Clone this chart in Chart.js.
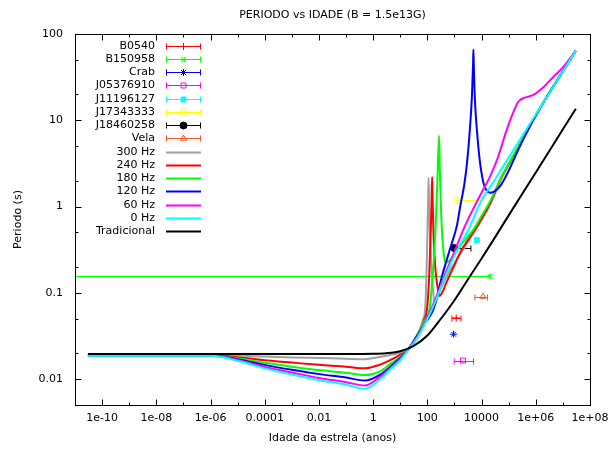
<!DOCTYPE html>
<html>
<head>
<meta charset="utf-8">
<script src="https://cdn.jsdelivr.net/npm/chart.js@4.4.1/dist/chart.umd.min.js"></script>
<style>
  body { margin: 0; background: #fff; }
  canvas { display: block; }
</style>
</head>
<body>
<canvas id="periodChart" width="612" height="450"></canvas>
<script>
// ticks
const xTickValues = [1e-10, 1e-8, 1e-6, 1e-4, 1e-2, 1, 100, 1e4, 1e6, 1e8];
const xTickLabels = ['1e-10', '1e-08', '1e-06', '0.0001', '0.01', '1', '100', '10000', '1e+06', '1e+08'];
const yTickValues = [0.01, 0.1, 1, 10, 100];
const yTickLabels = ['0.01', '0.1', '1', '10', '100'];

// observed pulsars (age in years, period in s)
const psrNames = ['B0540', 'B150958', 'Crab', 'J05376910', 'J11196127', 'J17343333', 'J18460258', 'Vela'];
const psrAge = [1160, 20700, 925, 2050, 6700, 1230, 980, 11200];
const psrAgeLow = [805, 1e-12, 925, 980, 6700, 1230, 880, 5670];
const psrAgeHigh = [1730, 20700, 925, 5030, 6700, 10300, 4040, 16500];
const psrPeriod = [0.0511, 0.155, 0.0331, 0.0164, 0.407, 1.18, 0.330, 0.0904];

// model curves [age, period]
const curve300 = [[3e-11, 0.0190], [1e-6, 0.0190], [1e-5, 0.0187], [1e-4, 0.0182], [1e-3, 0.0178], [1e-2, 0.0175],
  [0.1, 0.0172], [0.5, 0.0170], [1.7, 0.0180], [5, 0.0192], [10, 0.0200], [18, 0.0215], [30, 0.026], [50, 0.036],
  [70, 0.050], [83, 0.065], [92, 0.15], [100, 0.45], [106, 1.1], [111, 2.15], [116, 1.0], [125, 0.45], [140, 0.2],
  [165, 0.1], [195, 0.075], [240, 0.09], [350, 0.12], [600, 0.17], [1000, 0.22], [1630, 0.28], [3000, 0.38],
  [5700, 0.52], [1e4, 0.7], [2.07e4, 1.05], [5.6e4, 2.15], [1.75e5, 4.15], [4e5, 6.7], [8.1e5, 10.0], [2e6, 16.4],
  [1e7, 37], [3e7, 64]];
const curve240 = [[3e-11, 0.0189], [1e-6, 0.0189], [1e-5, 0.0179], [1e-4, 0.0165], [1e-3, 0.0155], [1e-2, 0.0146],
  [0.1, 0.0139], [0.5, 0.0133], [1.7, 0.0146], [5, 0.0170], [10, 0.0190], [18, 0.0212], [30, 0.026], [50, 0.035],
  [75, 0.048], [97, 0.065], [115, 0.14], [130, 0.4], [142, 1.1], [150, 2.2], [157, 1.1], [170, 0.45], [195, 0.2],
  [235, 0.12], [282, 0.092], [350, 0.1], [500, 0.13], [1000, 0.21], [1630, 0.294], [3000, 0.40], [5700, 0.54],
  [1e4, 0.72], [2.07e4, 1.1], [5.6e4, 2.24], [1.75e5, 4.2], [4e5, 6.8], [8.1e5, 10.1], [2e6, 16.5], [1e7, 37], [3e7, 64]];
const curve180 = [[3e-11, 0.0188], [1e-6, 0.0188], [1e-5, 0.0174], [1e-4, 0.0154], [1e-3, 0.0139], [1e-2, 0.0127],
  [0.1, 0.0118], [0.5, 0.0111], [1.7, 0.0122], [5, 0.0155], [10, 0.0180], [18, 0.0212], [30, 0.027], [50, 0.036],
  [80, 0.048], [120, 0.065], [160, 0.17], [200, 0.55], [235, 2.0], [270, 6.6], [290, 2.5], [320, 0.9], [360, 0.42],
  [410, 0.27], [460, 0.223], [600, 0.23], [1000, 0.28], [2000, 0.38], [5000, 0.54], [1e4, 0.78], [2.07e4, 1.15],
  [5.6e4, 2.25], [1.75e5, 4.25], [4e5, 6.8], [8.1e5, 10.1], [2e6, 16.5], [1e7, 37], [3e7, 64]];
const curve120 = [[3e-11, 0.0188], [1e-6, 0.0188], [1e-5, 0.0170], [1e-4, 0.0146], [1e-3, 0.0128], [1e-2, 0.0114],
  [0.1, 0.0104], [0.5, 0.0096], [1.7, 0.0111], [5, 0.0145], [10, 0.0175], [18, 0.0212], [40, 0.031], [80, 0.044],
  [170, 0.065], [345, 0.155], [700, 0.33], [1230, 0.6], [1630, 1.0], [2300, 1.8], [2900, 3.2], [3600, 7],
  [4400, 18.8], [4850, 45], [5000, 66], [5250, 35], [5800, 15], [6700, 7.8], [8500, 3.5], [11700, 1.88],
  [15000, 1.55], [20700, 1.44], [30000, 1.5], [48400, 1.72], [1e5, 2.6], [2e5, 4.2], [4e5, 6.6], [8.1e5, 10.1],
  [2e6, 16.5], [1e7, 37], [3e7, 64]];
const curve60 = [[3e-11, 0.0187], [1e-6, 0.0187], [1e-5, 0.0166], [1e-4, 0.0138], [1e-3, 0.0119], [1e-2, 0.0103],
  [0.1, 0.0092], [0.5, 0.0084], [1.7, 0.0105], [5, 0.0140], [10, 0.0170], [18, 0.0212], [40, 0.030], [80, 0.045],
  [200, 0.085], [400, 0.15], [1000, 0.30], [2130, 0.54], [5000, 0.95], [1e4, 1.45], [2.07e4, 2.24], [4e4, 3.7],
  [8.5e4, 7.8], [1.5e5, 12.5], [2.3e5, 16.5], [4e5, 18.3], [8.1e5, 19.7], [2e6, 24.5], [4.5e6, 32], [1e7, 41], [3e7, 64]];
const curve0 = [[3e-11, 0.0186], [1e-6, 0.0186], [1e-5, 0.0163], [1e-4, 0.0133], [1e-3, 0.0113], [1e-2, 0.0097],
  [0.1, 0.0086], [0.5, 0.0077], [1.7, 0.0098], [5, 0.0135], [10, 0.0165], [18, 0.0210], [40, 0.029], [80, 0.043],
  [200, 0.08], [400, 0.14], [1000, 0.27], [3300, 0.54], [8900, 1.1], [3e4, 2.02], [1e5, 3.69], [3e5, 6.4],
  [1e6, 11.7], [3e6, 20.2], [1e7, 36.9], [3e7, 64]];
const curveTrad = [[3e-11, 0.0195], [1e-6, 0.0195], [0.1, 0.0195], [1, 0.0196], [3, 0.0199], [10, 0.0210],
  [30, 0.024], [100, 0.032], [300, 0.049], [1000, 0.082], [3000, 0.14], [1e4, 0.25], [3e4, 0.43], [1e5, 0.79],
  [1e6, 2.48], [1e7, 7.85], [3e7, 13.6]];

const psrStyle = [
  { color: '#ff0000', style: 'cross', fill: 'transparent' },
  { color: '#00ff00', style: 'crossRot', fill: 'transparent' },
  { color: '#0000ff', style: 'star', fill: 'transparent' },
  { color: '#ff00ff', style: 'rect', fill: 'transparent' },
  { color: '#00ffff', style: 'rect', fill: '#00ffff' },
  { color: '#ffff00', style: 'circle', fill: 'transparent' },
  { color: '#000000', style: 'circle', fill: '#000000' },
  { color: '#ff5522', style: 'triangle', fill: 'transparent' }
];

const toXY = arr => arr.map(([x, y]) => ({ x, y }));

const datasets = psrNames.map((name, i) => ({
  label: name,
  kind: 'psr',
  data: [{ x: psrAge[i], y: psrPeriod[i] }],
  xLow: psrAgeLow[i],
  xHigh: psrAgeHigh[i],
  showLine: false,
  pointStyle: psrStyle[i].style,
  pointRadius: 3.5,
  pointBorderWidth: 1,
  pointBorderColor: psrStyle[i].color,
  pointBackgroundColor: psrStyle[i].fill,
  order: 20 + i
}));

const lines = [
  ['300 Hz', curve300, '#a0a0a0', 6],
  ['240 Hz', curve240, '#ff0000', 5],
  ['180 Hz', curve180, '#00ff00', 4],
  ['120 Hz', curve120, '#0000ff', 3],
  ['60 Hz', curve60, '#ff00ff', 2],
  ['0 Hz', curve0, '#00ffff', 1],
  ['Tradicional', curveTrad, '#000000', 0]
];
lines.forEach(([label, arr, color, order]) => {
  datasets.push({
    label,
    kind: 'line',
    data: toXY(arr),
    borderColor: color,
    borderWidth: 2,
    pointRadius: 0,
    cubicInterpolationMode: 'monotone',
    order
  });
});

const font = { family: 'DejaVu Sans', size: 11 };

// x error bars, drawn below the curves
const errorBars = {
  id: 'errorBars',
  beforeDatasetsDraw(chart) {
    const { ctx, chartArea: a, scales: { x, y } } = chart;
    ctx.save();
    ctx.beginPath();
    ctx.rect(a.left, a.top, a.right - a.left, a.bottom - a.top);
    ctx.clip();
    ctx.lineWidth = 1;
    chart.data.datasets.forEach(ds => {
      if (ds.kind !== 'psr' || ds.xLow === ds.xHigh) return;
      const x0 = x.getPixelForValue(ds.xLow);
      const x1 = x.getPixelForValue(ds.xHigh);
      const py = Math.round(y.getPixelForValue(ds.data[0].y)) + 0.5;
      ctx.strokeStyle = ds.pointBorderColor;
      ctx.beginPath();
      ctx.moveTo(x0, py); ctx.lineTo(x1, py);
      ctx.moveTo(x0, py - 3); ctx.lineTo(x0, py + 3);
      ctx.moveTo(x1, py - 3); ctx.lineTo(x1, py + 3);
      ctx.stroke();
    });
    ctx.restore();
  }
};

// gnuplot style border, ticks, titles and key
const frame = {
  id: 'frame',
  afterDraw(chart) {
    const { ctx, chartArea: a, scales: { x, y } } = chart;
    ctx.save();
    ctx.strokeStyle = '#000';
    ctx.lineWidth = 1;
    const L = Math.round(a.left) + 0.5, R = Math.round(a.right) + 0.5;
    const T = Math.round(a.top) + 0.5, B = Math.round(a.bottom) + 0.5;
    ctx.strokeRect(L, T, R - L, B - T);
    ctx.beginPath();
    for (let e = -11; e <= 8; e++) {
      const px = Math.round(x.getPixelForValue(Math.pow(10, e))) + 0.5;
      const len = e % 2 === 0 ? 6 : 3;
      ctx.moveTo(px, B); ctx.lineTo(px, B - len);
      ctx.moveTo(px, T); ctx.lineTo(px, T + len);
    }
    for (let e = -3; e <= 2; e++) {
      [1, 2, 5].forEach(m => {
        const v = m * Math.pow(10, e);
        if (v < y.min || v > y.max) return;
        const py = Math.round(y.getPixelForValue(v)) + 0.5;
        const len = m === 1 ? 6 : 3;
        ctx.moveTo(L, py); ctx.lineTo(L + len, py);
        ctx.moveTo(R, py); ctx.lineTo(R - len, py);
      });
    }
    ctx.stroke();

    ctx.fillStyle = '#000';
    ctx.font = '11px "DejaVu Sans"';
    ctx.textAlign = 'center';
    ctx.textBaseline = 'middle';
    ctx.fillText('PERIODO vs IDADE (B = 1.5e13G)', (a.left + a.right) / 2, 15);
    ctx.fillText('Idade da estrela (anos)', (a.left + a.right) / 2, 438);
    ctx.save();
    ctx.translate(18, (a.top + a.bottom) / 2);
    ctx.rotate(-Math.PI / 2);
    ctx.fillText('Periodo (s)', 0, 0);
    ctx.restore();

    // key
    chart.data.datasets.forEach((ds, i) => {
      const ky = Math.round(45.7 + i * 13.24) + 0.5;
      ctx.fillStyle = '#000';
      ctx.textAlign = 'right';
      ctx.fillText(ds.label, 155, ky);
      const x0 = 166, x1 = 201;
      if (ds.kind === 'psr') {
        ctx.strokeStyle = ds.pointBorderColor;
        ctx.lineWidth = 1;
        ctx.beginPath();
        ctx.moveTo(x0, ky); ctx.lineTo(x1, ky);
        ctx.moveTo(x0 + 0.5, ky - 3); ctx.lineTo(x0 + 0.5, ky + 3);
        ctx.moveTo(x1 - 0.5, ky - 3); ctx.lineTo(x1 - 0.5, ky + 3);
        ctx.stroke();
        ctx.fillStyle = ds.pointBackgroundColor;
        Chart.helpers.drawPoint(ctx, { pointStyle: ds.pointStyle, radius: 3.5, rotation: 0, borderWidth: 1 }, (x0 + x1) / 2, ky);
      } else {
        ctx.strokeStyle = ds.borderColor;
        ctx.lineWidth = 2;
        ctx.beginPath();
        ctx.moveTo(x0, ky); ctx.lineTo(x1, ky);
        ctx.stroke();
      }
    });
    ctx.restore();
  }
};

new Chart(document.getElementById('periodChart'), {
  type: 'line',
  data: { datasets },
  plugins: [errorBars, frame],
  options: {
    responsive: false,
    animation: false,
    layout: { padding: { top: 34, right: 22, left: 0, bottom: 0 } },
    plugins: { legend: { display: false }, tooltip: { enabled: false }, title: { display: false } },
    scales: {
      x: {
        type: 'logarithmic',
        min: 1e-11,
        max: 1e8,
        grid: { display: false, drawTicks: false },
        border: { display: false },
        afterBuildTicks: s => { s.ticks = xTickValues.map(v => ({ value: v })); },
        afterFit: s => { s.height = 45; s.paddingLeft = 0; s.paddingRight = 0; },
        ticks: { autoSkip: false, maxRotation: 0, padding: 7, color: '#000', font, callback: (v, i) => xTickLabels[i] }
      },
      y: {
        type: 'logarithmic',
        min: 0.005,
        max: 100,
        grid: { display: false, drawTicks: false },
        border: { display: false },
        afterBuildTicks: s => { s.ticks = yTickValues.map(v => ({ value: v })); },
        afterFit: s => { s.width = 75; s.paddingTop = 0; s.paddingBottom = 0; },
        ticks: { autoSkip: false, padding: 12, color: '#000', font, callback: (v, i) => yTickLabels[i] }
      }
    }
  }
});
</script>
</body>
</html>
